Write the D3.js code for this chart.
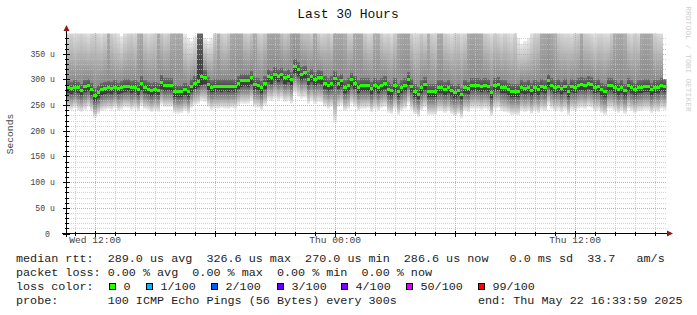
<!DOCTYPE html>
<html><head><meta charset="utf-8">
<script src="https://cdn.jsdelivr.net/npm/d3@7"></script>
<style>
html,body{margin:0;padding:0;background:#fff;}
svg{display:block;}
text{font-family:"Liberation Mono","DejaVu Sans Mono",monospace;white-space:pre;}
</style></head>
<body>
<svg id="chart" width="697" height="315"></svg>
<script>
// ---- data ----
const medianRtt = [
286,283,286,285,280,287,290,282,270,276,281,283,285,284,286,283,285,288,288,285,286,282,293,285,282,280,282,280,296,
290,290,290,277,277,277,281,277,288,294,297,307,304,292,286,288,288,288,288,288,288,288,294,298,298,298,304,291,290,285,294,307,
304,311,307,310,304,307,301,326.6,320,311,314,301,307,301,305,304,294,290,294,303,294,298,286,290,300,294,286,290,290,
290,283,290,285,290,293,282,279,289,278,285,290,301,288,278,272,285,291,278,278,278,285,285,282,285,279,275,279,271,285,
283,290,290,290,288,290,288,275,290,292,286,285,281,278,278,278,286,283,286,280,285,282,288,285,298,290,285,288,283,288,
278,288,286,290,292,290,294,291,286,288,281,278,290,290,286,281,286,279,290,285,281,285,286,288,288,281,286,285,290,286.6];

const smokeQ1 = [
274,272,275,273,269,275,278,270,258,263,270,272,273,272,275,271,274,276,277,273,275,270,280,273,271,268,271,269,282,
278,279,278,266,265,266,270,265,276,282,285,290,292,280,275,276,277,276,277,276,277,276,282,286,287,286,292,279,279,273,282,295,
292,299,295,298,292,295,289,312,307,299,302,289,295,289,293,292,282,278,282,291,282,286,274,278,288,282,274,278,278,
278,271,278,273,278,281,270,267,277,266,273,278,289,276,266,262,273,279,266,266,266,273,273,270,273,267,263,267,262,273,
271,278,278,278,276,278,276,264,278,280,274,273,269,266,266,266,274,271,274,268,273,270,276,273,286,278,273,276,271,276,
266,276,274,278,280,278,282,279,274,276,269,266,278,278,274,269,274,267,278,273,269,273,274,276,276,269,274,273,278,275];

const smokeQ3 = [
297,295,298,296,292,299,301,294,284,289,293,296,297,296,298,294,297,300,301,297,298,295,306,298,296,293,295,293,309,
302,303,302,290,289,290,294,290,300,306,400,400,318,305,298,300,301,300,301,300,301,300,307,311,311,311,317,304,303,297,307,320,
317,324,320,323,317,320,314,340,334,324,327,314,320,314,318,317,307,303,307,316,307,311,299,303,313,307,299,303,303,
303,296,303,298,303,306,295,292,302,291,298,303,314,301,291,285,298,304,291,291,291,298,298,295,298,292,288,292,284,298,
296,303,303,303,301,303,301,288,303,305,299,298,294,291,291,291,299,296,299,293,298,295,301,298,311,303,298,301,296,301,
291,301,299,303,305,303,307,304,299,301,294,291,303,303,299,294,299,292,303,298,294,298,299,301,301,294,299,298,303,300];

const smokeLow = [
242,240,244,238,236,240,246,238,225,232,238,240,242,240,244,238,241,245,244,240,243,238,248,242,240,236,239,237,250,
246,246,246,234,233,234,238,233,244,250,252,258,256,246,240,243,242,244,243,242,244,243,249,253,252,253,258,246,245,240,249,
260,258,262,258,262,256,258,252,272,266,262,264,252,258,252,256,255,246,242,246,215,246,250,238,242,252,246,238,242,242,
244,236,242,238,244,246,234,232,242,230,238,242,252,240,232,226,238,244,230,230,230,238,238,234,238,232,228,232,224,238,
236,242,242,242,240,242,240,228,242,244,238,236,234,230,230,230,238,236,238,232,238,234,240,238,250,242,238,240,236,240,
230,240,238,242,244,242,246,244,238,240,234,230,242,242,238,234,238,232,242,238,234,238,238,240,240,234,238,236,242,240];

const smokeHigh = [
410,420,405,415,425,410,400,420,430,415,405,420,560,430,410,400,385,405,420,430,415,540,560,425,410,420,430,580,440,
420,430,540,580,600,560,390,380,375,385,900,900,380,375,380,420,540,430,415,440,560,600,580,540,430,420,440,560,430,420,440,
560,600,580,560,450,430,440,600,620,580,450,430,440,420,560,430,410,420,440,415,540,580,560,540,430,420,560,600,560,
430,410,420,540,560,430,410,420,405,430,560,600,620,580,430,410,420,440,415,540,430,420,560,580,430,415,405,420,430,410,
420,560,600,620,580,560,430,420,410,430,415,405,420,410,400,420,380,370,375,380,400,420,430,560,600,620,580,540,430,420,
410,415,405,420,430,560,430,420,410,400,415,420,410,405,430,560,600,580,540,420,410,430,415,560,600,580,540,420,410,405];

const yTickValues = [0,50,100,150,200,250,300,350];
const yTickLabels = ["0","50 u","100 u","150 u","200 u","250 u","300 u","350 u"];

const lossLabels = ["0","1/100","2/100","3/100","4/100","50/100","99/100"];
const lossColors = ["#26ff00","#00b8ff","#0059ff","#5e00ff","#7e00ff","#dd00ff","#ff0000"];

// ---- scales ----
const endTime = new Date(2025,4,22,16,33,59);
const startTime = new Date(+endTime - 30*3600e3);
const stepMs = 30*3600e3/medianRtt.length;
const x = d3.scaleTime().domain([startTime,endTime]).range([66.5,666.5]);
const y = d3.scaleLinear().domain([0,389.5]).range([233.5,33.5]);

const svg = d3.select("#chart");
svg.append("rect").attr("width",697).attr("height",315).attr("fill","#fff");

const defs = svg.append("defs");
defs.append("clipPath").attr("id","plotclip").append("rect")
  .attr("x",67).attr("y",33.5).attr("width",599.5).attr("height",200);
function grad(id, stops){
  const g = defs.append("linearGradient").attr("id",id).attr("x1",0).attr("x2",0).attr("y1",0).attr("y2",1);
  stops.forEach(s=>g.append("stop").attr("offset",s[0]).attr("stop-color",s[1]));
}
grad("gUp",[[0,"#ebebeb"],[1,"#8a8a8a"]]);
grad("gMid",[[0,"#6e6e6e"],[0.55,"#484848"],[1,"#3c3c3c"]]);
grad("gDown",[[0,"#5e5e5e"],[1,"#f3f3f3"]]);

const steps = medianRtt.map((m,i)=>({
  x0: x(new Date(+startTime + i*stepMs)),
  x1: x(new Date(+startTime + (i+1)*stepMs)),
  med:m, q1:smokeQ1[i], q3:smokeQ3[i], lo:smokeLow[i], hi:smokeHigh[i]
}));

const smoke = svg.append("g").attr("clip-path","url(#plotclip)").attr("shape-rendering","crispEdges");
smoke.selectAll("rect.up").data(steps).join("rect").attr("class","up")
  .attr("x",d=>d.x0).attr("width",d=>d.x1-d.x0+0.3)
  .attr("y",d=>y(d.hi)).attr("height",d=>y(d.q3)-y(d.hi)).attr("fill","url(#gUp)");
smoke.selectAll("rect.down").data(steps).join("rect").attr("class","down")
  .attr("x",d=>d.x0).attr("width",d=>d.x1-d.x0+0.3)
  .attr("y",d=>y(d.q1)).attr("height",d=>y(d.lo)-y(d.q1)).attr("fill","url(#gDown)");
smoke.selectAll("rect.mid").data(steps).join("rect").attr("class","mid")
  .attr("x",d=>d.x0).attr("width",d=>d.x1-d.x0+0.3)
  .attr("y",d=>y(d.q3)).attr("height",d=>y(d.q1)-y(d.q3)).attr("fill","url(#gMid)");

// ---- grid ----
const grid = svg.append("g").attr("shape-rendering","crispEdges");
const hMinor = d3.range(10,390,10);
hMinor.forEach(v=>{
  const major = v%50===0;
  grid.append("line").attr("x1",67).attr("x2",667).attr("y1",Math.round(y(v))+0.5).attr("y2",Math.round(y(v))+0.5)
    .attr("stroke",major?"#f09090":"#c4c4c4").attr("stroke-opacity",major?0.85:0.75).attr("stroke-dasharray","1,1");
});
const hours = d3.timeHour.every(1).range(startTime,endTime);
hours.forEach(t=>{
  const major = t.getHours()%6===0;
  const xx = Math.round(x(t))+0.5;
  grid.append("line").attr("x1",xx).attr("x2",xx).attr("y1",33).attr("y2",233)
    .attr("stroke",major?"#f09090":"#c4c4c4").attr("stroke-opacity",major?0.85:0.75).attr("stroke-dasharray","1,1");
});

// ---- median ----
svg.append("g").attr("clip-path","url(#plotclip)").attr("shape-rendering","crispEdges")
  .selectAll("rect").data(steps).join("rect")
  .attr("x",d=>d.x0).attr("width",d=>d.x1-d.x0+0.3)
  .attr("y",d=>Math.round(y(d.med))-1.5).attr("height",3).attr("fill",lossColors[0]);

// ---- axes ----
const ax = svg.append("g").attr("shape-rendering","crispEdges");
ax.append("line").attr("x1",66.5).attr("x2",66.5).attr("y1",237).attr("y2",30).attr("stroke","#000");
ax.append("line").attr("x1",62).attr("x2",669).attr("y1",233.5).attr("y2",233.5).attr("stroke","#000");
yTickValues.forEach(v=>{
  const yy = Math.round(y(v))+0.5;
  ax.append("line").attr("x1",62.5).attr("x2",69.5).attr("y1",yy).attr("y2",yy).attr("stroke","#000");
});
hMinor.filter(v=>v%50!==0).forEach(v=>{
  const yy = Math.round(y(v))+0.5;
  ax.append("line").attr("x1",64.5).attr("x2",68.5).attr("y1",yy).attr("y2",yy).attr("stroke","#000");
});
hours.forEach(t=>{
  const major = t.getHours()%6===0;
  const xx = Math.round(x(t))+0.5;
  ax.append("line").attr("x1",xx).attr("x2",xx).attr("y1",major?230.5:231.5).attr("y2",major?237:235.5).attr("stroke","#000");
});
svg.append("path").attr("d","M66.5,25 L63.5,31 L69.5,31 Z").attr("fill","#8b1a1a");
svg.append("path").attr("d","M673,233.5 L667,230.5 L667,236.5 Z").attr("fill","#8b1a1a");

// y labels
svg.append("g").selectAll("text").data(yTickValues).join("text")
  .attr("x",(d,i)=>i===0?50:55).attr("y",d=>y(d)+3).attr("text-anchor","end")
  .attr("font-size",8.2).attr("fill","#444").text((d,i)=>yTickLabels[i]);
// x labels
const xLabelTimes = hours.filter(t=>t.getHours()%12===0);
const fmt = d3.timeFormat("%a %H:%M");
svg.append("g").selectAll("text").data(xLabelTimes).join("text")
  .attr("x",d=>x(d)).attr("y",243).attr("text-anchor","middle")
  .attr("font-size",9.6).attr("fill","#444").text(d=>fmt(d));

// axis title
svg.append("text").attr("transform","translate(13,134) rotate(-90)").attr("text-anchor","middle")
  .attr("font-size",9.6).attr("fill","#444").text("Seconds");
// title
svg.append("text").attr("x",348).attr("y",17.5).attr("text-anchor","middle")
  .attr("font-size",13).attr("fill","#111").text("Last 30 Hours");
// watermark
svg.append("text").attr("transform","translate(685.5,59) rotate(90)").attr("text-anchor","middle")
  .attr("font-size",8).attr("fill","#cfcfcf").text("RRDTOOL / TOBI OETIKER");

// ---- legend ----
const lg = svg.append("g").attr("font-size",11.75).attr("fill","#222");
lg.append("text").attr("x",16).attr("y",262).text("median rtt:  289.0 us avg  326.6 us max  270.0 us min  286.6 us now   0.0 ms sd  33.7   am/s");
lg.append("text").attr("x",16).attr("y",276).text("packet loss: 0.00 % avg  0.00 % max  0.00 % min  0.00 % now");
lg.append("text").attr("x",16).attr("y",290).text("loss color:");
const boxX = [108.5,145.5,210.5,276.5,340.5,405.5,477.5];
lossLabels.forEach((l,i)=>{
  svg.append("rect").attr("x",boxX[i]+0.5).attr("y",283.5).attr("width",6).attr("height",6)
    .attr("fill",lossColors[i]).attr("stroke","#000").attr("shape-rendering","crispEdges");
  lg.append("text").attr("x",boxX[i]+15).attr("y",290).text(l);
});
lg.append("text").attr("x",16).attr("y",304).text("probe:       100 ICMP Echo Pings (56 Bytes) every 300s");
lg.append("text").attr("x",478).attr("y",304).text("end: Thu May 22 16:33:59 2025");
</script>
</body></html>
